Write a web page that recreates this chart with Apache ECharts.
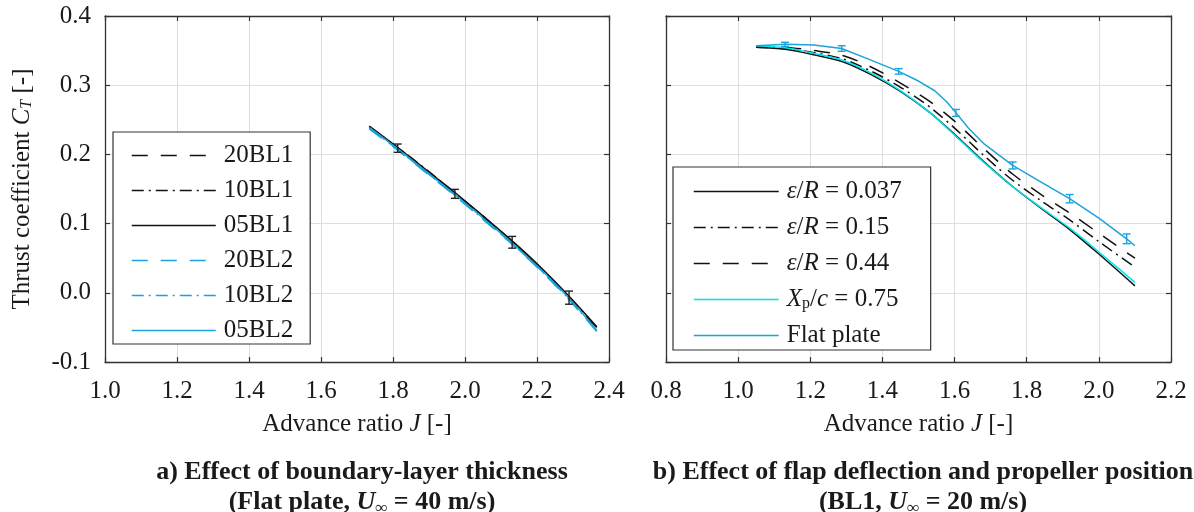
<!DOCTYPE html>
<html>
<head>
<meta charset="utf-8">
<script src="https://cdn.jsdelivr.net/npm/echarts@6/dist/echarts.min.js"></script>
<style>
  html, body { margin: 0; padding: 0; background: #fff; }
  #chart { width: 1194px; height: 512px; }
</style>
</head>
<body>
<div id="chart"></div>
<script>
// ---- panel a) boundary-layer thickness ----
const jLeft = [1.734, 1.813, 1.893, 1.972, 2.052, 2.131, 2.210, 2.289, 2.366]
const ct20BL1 = [0.240, 0.210, 0.177, 0.144, 0.109, 0.074, 0.036, -0.006, -0.050]
const ct10BL1 = [0.240, 0.210, 0.178, 0.144, 0.110, 0.074, 0.036, -0.006, -0.051]
const ct05BL1 = [0.241, 0.210, 0.177, 0.145, 0.110, 0.075, 0.037, -0.005, -0.049]
const ct20BL2 = [0.237, 0.206, 0.173, 0.140, 0.105, 0.070, 0.032, -0.010, -0.056]
const ct10BL2 = [0.238, 0.207, 0.174, 0.141, 0.106, 0.071, 0.033, -0.009, -0.055]
const ct05BL2 = [0.239, 0.208, 0.175, 0.142, 0.107, 0.072, 0.034, -0.008, -0.054]
const jErrLeft = [1.813, 1.972, 2.131, 2.289]
const ctErrLeft = [0.209, 0.143, 0.073, -0.007]
const errLeft = [0.006, 0.0065, 0.0085, 0.0095]

// ---- panel b) flap deflection / propeller position ----
const jRight = [1.05, 1.13, 1.21, 1.29, 1.37, 1.45, 1.53, 1.60, 1.68, 1.76, 1.84, 1.92, 2.00, 2.10]
const ctEps037 = [0.355, 0.352, 0.344, 0.334, 0.315, 0.291, 0.261, 0.229, 0.190, 0.154, 0.122, 0.091, 0.056, 0.010]
const ctEps015 = [0.355, 0.353, 0.347, 0.338, 0.320, 0.297, 0.269, 0.238, 0.199, 0.163, 0.133, 0.105, 0.074, 0.037]
const ctEps044 = [0.356, 0.355, 0.350, 0.343, 0.326, 0.303, 0.277, 0.248, 0.209, 0.172, 0.142, 0.115, 0.086, 0.050]
const ctXp075 = [0.357, 0.354, 0.346, 0.336, 0.317, 0.292, 0.261, 0.228, 0.189, 0.154, 0.123, 0.093, 0.059, 0.015]
const jFlat = [1.05, 1.13, 1.21, 1.287, 1.365, 1.445, 1.50, 1.545, 1.578, 1.604, 1.64, 1.68, 1.761, 1.84, 1.919, 2.00, 2.077, 2.10]
const ctFlat = [0.357, 0.359, 0.358, 0.353, 0.337, 0.320, 0.306, 0.292, 0.276, 0.260, 0.237, 0.216, 0.184, 0.160, 0.136, 0.108, 0.078, 0.068]
const jErrRight = [1.13, 1.287, 1.445, 1.604, 1.761, 1.919, 2.077]
const ctErrRight = [0.359, 0.353, 0.320, 0.260, 0.184, 0.136, 0.078]
const errRight = [0.003, 0.004, 0.004, 0.005, 0.005, 0.006, 0.007]

const xTicksLeft = [1.0, 2.4]
const xTicksRight = [0.8, 2.2]
const yTicks = [-0.1, 0.4]

const FONT = 'Liberation Serif'
const TXT = '#1a1a1a'
const BLACK = '#111'
const BLUE = '#1ba3db'
const CYAN = '#00e4ee'
const DASH = [16, 13]
const DASHDOT = [12, 5, 2, 5]

const pairs = (xs, ys) => xs.map((x, i) => [x, ys[i]])
const errRows = (xs, ys, es) => xs.map((x, i) => [x, ys[i], es[i]])

const rich = {
  i: { fontFamily: FONT, fontSize: 25, fontStyle: 'italic', color: TXT, lineHeight: 24 },
  s: { fontFamily: FONT, fontSize: 16, color: TXT, lineHeight: 10, verticalAlign: 'bottom' },
  si: { fontFamily: FONT, fontSize: 16, fontStyle: 'italic', color: TXT, lineHeight: 10, verticalAlign: 'bottom' }
}

const legendRightText = {
  'ε/R = 0.037': '{i|ε}/{i|R} = 0.037',
  'ε/R = 0.15': '{i|ε}/{i|R} = 0.15',
  'ε/R = 0.44': '{i|ε}/{i|R} = 0.44',
  'Xp/c = 0.75': '{i|X}{s|p}/{i|c} = 0.75',
  'Flat plate': 'Flat plate'
}

function errorBar(color) {
  return function (params, api) {
    const x = api.value(0), y = api.value(1), e = api.value(2)
    const top = api.coord([x, y + e])
    const bot = api.coord([x, y - e])
    const w = 4
    const style = { stroke: color, lineWidth: 1.4 }
    return {
      type: 'group',
      children: [
        { type: 'line', shape: { x1: top[0], y1: top[1], x2: bot[0], y2: bot[1] }, style },
        { type: 'line', shape: { x1: top[0] - w, y1: top[1], x2: top[0] + w, y2: top[1] }, style },
        { type: 'line', shape: { x1: bot[0] - w, y1: bot[1], x2: bot[0] + w, y2: bot[1] }, style }
      ]
    }
  }
}

const tickLabel = { fontFamily: FONT, fontSize: 25, color: TXT }
const axisLine = { show: true, onZero: false, lineStyle: { color: '#333', width: 1.3 } }
const axisTick = { show: true, inside: true, length: 5, lineStyle: { color: '#333', width: 1.2 } }
const splitLine = { show: true, lineStyle: { color: '#dedede', width: 1 } }

function mainX(gridIndex, min, max) {
  return {
    type: 'value', gridIndex, min, max, interval: 0.2,
    axisLine, axisTick, splitLine,
    axisLabel: { ...tickLabel, margin: 17, formatter: v => v.toFixed(1) },
    name: 'Advance ratio {i|J} [-]', nameLocation: 'middle', nameGap: 50,
    nameTextStyle: { fontFamily: FONT, fontSize: 25, color: TXT, rich }
  }
}
function mirrorX(gridIndex, min, max) {
  return {
    type: 'value', gridIndex, min, max, interval: 0.2, position: 'top',
    axisLine, axisTick, splitLine: { show: false }, axisLabel: { show: false }
  }
}
function mainY(gridIndex, showLabels) {
  return {
    type: 'value', gridIndex, min: yTicks[0], max: yTicks[1], interval: 0.1,
    axisLine, axisTick, splitLine,
    axisLabel: { ...tickLabel, show: showLabels, margin: 14, formatter: v => v.toFixed(1) },
    name: showLabels ? 'Thrust coefficient {i|C}{si|T} [-]' : '',
    nameLocation: 'middle', nameGap: 70,
    nameTextStyle: { fontFamily: FONT, fontSize: 25, color: TXT, rich }
  }
}
function mirrorY(gridIndex) {
  return {
    type: 'value', gridIndex, min: yTicks[0], max: yTicks[1], interval: 0.1, position: 'right',
    axisLine, axisTick, splitLine: { show: false }, axisLabel: { show: false }
  }
}

function line(name, xi, yi, xs, ys, color, type) {
  return {
    name, type: 'line', xAxisIndex: xi, yAxisIndex: yi,
    data: pairs(xs, ys), symbol: 'none', smooth: 0.3,
    lineStyle: { color, width: 1.5, type },
    itemStyle: { color }
  }
}

const legendBase = {
  orient: 'vertical',
  itemWidth: 84, itemHeight: 14,
  backgroundColor: '#fff', borderColor: '#333', borderWidth: 1.2,
  lineStyle: { width: 1.5 },
  itemStyle: { opacity: 0 },
  textStyle: { fontFamily: FONT, fontSize: 25, color: TXT, lineHeight: 24, padding: [0, 0, 0, 3], rich }
}

const titleRich = {
  b: { fontFamily: FONT, fontSize: 26, fontWeight: 'bold', color: TXT, lineHeight: 30 },
  bi: { fontFamily: FONT, fontSize: 26, fontWeight: 'bold', fontStyle: 'italic', color: TXT, lineHeight: 30 },
  bs: { fontFamily: FONT, fontSize: 17, fontWeight: 'bold', color: TXT, lineHeight: 14, verticalAlign: 'bottom' }
}

const chart = echarts.init(document.getElementById('chart'))
chart.setOption({
  animation: false,
  backgroundColor: '#fff',
  title: [
    {
      text: '{b|a) Effect of boundary-layer thickness}\n{b|(Flat plate, }{bi|U}{bs|∞}{b| = 40 m/s)}',
      left: 357, top: 452, textAlign: 'center',
      textStyle: { rich: titleRich }
    },
    {
      text: '{b|b) Effect of flap deflection and propeller position}\n{b|(BL1, }{bi|U}{bs|∞}{b| = 20 m/s)}',
      left: 918, top: 452, textAlign: 'center',
      textStyle: { rich: titleRich }
    }
  ],
  grid: [
    { left: 105, top: 16, width: 504, height: 346 },
    { left: 666, top: 16, width: 505, height: 346 }
  ],
  xAxis: [
    mainX(0, xTicksLeft[0], xTicksLeft[1]),
    mirrorX(0, xTicksLeft[0], xTicksLeft[1]),
    mainX(1, xTicksRight[0], xTicksRight[1]),
    mirrorX(1, xTicksRight[0], xTicksRight[1])
  ],
  yAxis: [mainY(0, true), mirrorY(0), mainY(1, false), mirrorY(1)],
  legend: [
    {
      ...legendBase,
      left: 113, top: 132, padding: [11, 17, 1, 18], itemGap: 10,
      data: ['20BL1', '10BL1', '05BL1', '20BL2', '10BL2', '05BL2']
    },
    {
      ...legendBase,
      itemWidth: 85,
      left: 673, top: 167, padding: [12, 29, 2, 20], itemGap: 11,
      data: ['ε/R = 0.037', 'ε/R = 0.15', 'ε/R = 0.44', 'Xp/c = 0.75', 'Flat plate'],
      formatter: name => legendRightText[name]
    }
  ],
  series: [
    line('20BL1', 0, 0, jLeft, ct20BL1, BLACK, DASH),
    line('10BL1', 0, 0, jLeft, ct10BL1, BLACK, DASHDOT),
    line('05BL1', 0, 0, jLeft, ct05BL1, BLACK, 'solid'),
    line('20BL2', 0, 0, jLeft, ct20BL2, BLUE, DASH),
    line('10BL2', 0, 0, jLeft, ct10BL2, BLUE, DASHDOT),
    line('05BL2', 0, 0, jLeft, ct05BL2, BLUE, 'solid'),
    {
      type: 'custom', xAxisIndex: 0, yAxisIndex: 0,
      data: errRows(jErrLeft, ctErrLeft, errLeft),
      encode: { x: 0, y: 1 }, renderItem: errorBar('#222'), z: 5
    },
    line('ε/R = 0.037', 2, 2, jRight, ctEps037, BLACK, 'solid'),
    line('ε/R = 0.15', 2, 2, jRight, ctEps015, BLACK, DASHDOT),
    line('ε/R = 0.44', 2, 2, jRight, ctEps044, BLACK, DASH),
    line('Xp/c = 0.75', 2, 2, jRight, ctXp075, CYAN, 'solid'),
    { ...line('Flat plate', 2, 2, jFlat, ctFlat, BLUE, 'solid'), smooth: false },
    {
      type: 'custom', xAxisIndex: 2, yAxisIndex: 2,
      data: errRows(jErrRight, ctErrRight, errRight),
      encode: { x: 0, y: 1 }, renderItem: errorBar(BLUE), z: 5
    }
  ]
})
</script>
</body>
</html>
